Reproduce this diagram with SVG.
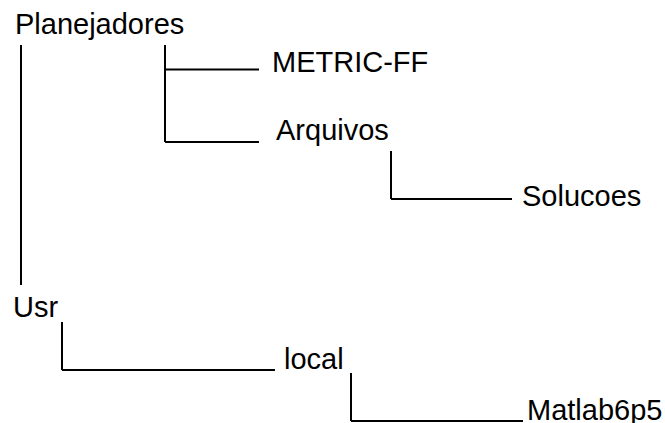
<svg xmlns="http://www.w3.org/2000/svg" width="665" height="423" viewBox="0 0 665 423">
<style>
text{font-family:"Liberation Sans",Arial,sans-serif;font-size:29px;fill:#000}
.c line{stroke:#000;stroke-width:2;fill:none}
</style>
<rect width="665" height="423" fill="#fff"/>
<g class="c" id="connectors">
<line x1="21" y1="45" x2="21" y2="285"/>
<line x1="165" y1="45" x2="165" y2="142"/>
<line x1="165" y1="69.5" x2="259" y2="69.5"/>
<line x1="165" y1="142" x2="259" y2="142"/>
<line x1="391" y1="151" x2="391" y2="199"/>
<line x1="391" y1="199" x2="512" y2="199"/>
<line x1="62" y1="322" x2="62" y2="370"/>
<line x1="62" y1="370" x2="275" y2="370"/>
<line x1="351" y1="373" x2="351" y2="421"/>
<line x1="351" y1="421" x2="523" y2="421"/>
</g>
<g id="planejadores"><text x="15" y="34">Planejadores</text></g>
<g id="metric-ff"><text x="272" y="72">METRIC-FF</text></g>
<g id="arquivos"><text x="276" y="140">Arquivos</text></g>
<g id="solucoes"><text x="522" y="206">Solucoes</text></g>
<g id="usr"><text x="13" y="317">Usr</text></g>
<g id="local"><text x="284" y="369">local</text></g>
<g id="matlab6p5"><text x="527" y="420">Matlab6p5</text></g>
</svg>
